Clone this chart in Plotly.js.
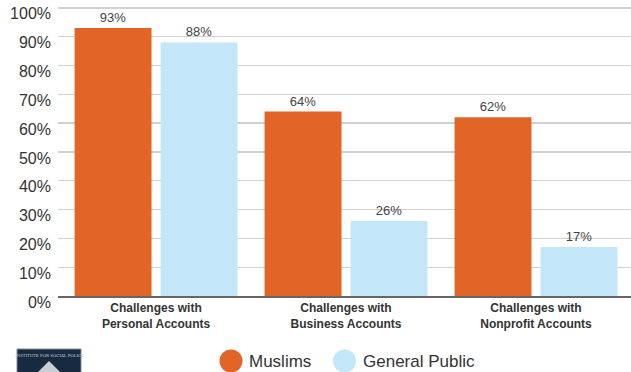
<!DOCTYPE html>
<html>
<head>
<meta charset="utf-8">
<script src="https://cdn.plot.ly/plotly-3.0.1.min.js"></script>
<style>
  html, body { margin: 0; padding: 0; background: #fff; }
  #chart { width: 631px; height: 372px; }
</style>
</head>
<body>
<div id="chart"></div>
<script>
// Share of respondents reporting account challenges
const categories = [
  "Challenges with<br>Personal Accounts",
  "Challenges with<br>Business Accounts",
  "Challenges with<br>Nonprofit Accounts"
];
const muslims = [93, 64, 62];
const generalPublic = [88, 26, 17];
const seriesNames = ["Muslims", "General Public"];
const seriesColors = ["#E06526", "#C3E6F8"];
const tickValues = [0, 10, 20, 30, 40, 50, 60, 70, 80, 90, 100];
const tickLabels = tickValues.map(v => v + "%");

const FONT = "Liberation Sans, Arial, sans-serif";
const labelFont = { family: FONT, size: 13, color: "#444" };

// plot frame in pixels
const L = 58, T = 5, B = 76, W = 631 - L, H = 372 - T - B;
const Y_MAX = 101;
// pixel -> paper helpers for the legend and logo placed under the axis
const px = x => (x - L) / W;
const py = y => (372 - B - y) / H;

function barTrace(name, values, color) {
  return {
    type: "bar",
    name: name,
    x: categories,
    y: values,
    marker: { color: color, line: { width: 0 } },
    text: values.map(v => v + "%"),
    textposition: "outside",
    textfont: labelFont,
    cliponaxis: false,
    hoverinfo: "none"
  };
}

const data = [
  barTrace(seriesNames[0], muslims, seriesColors[0]),
  barTrace(seriesNames[1], generalPublic, seriesColors[1])
];

function swatch(cx, color) {
  return { type: "circle", xref: "paper", yref: "paper", xsizemode: "pixel", ysizemode: "pixel",
    xanchor: px(cx), yanchor: py(361), x0: -11.5, x1: 11.5, y0: -11.5, y1: 11.5,
    fillcolor: color, line: { width: 0 } };
}

const shapes = [
  swatch(231, seriesColors[0]),
  swatch(344.5, seriesColors[1]),
  // logo block
  { type: "rect", xref: "paper", yref: "paper",
    x0: px(17), x1: px(81), y0: py(349), y1: py(380),
    fillcolor: "#172a40", line: { color: "#7f8c99", width: 1 } },
  { type: "path", xref: "paper", yref: "paper", xsizemode: "pixel", ysizemode: "pixel",
    xanchor: px(49), yanchor: py(361),
    path: "M 0,0 L 11,-11 L -11,-11 Z",
    fillcolor: "#c9ced4", line: { width: 0 } }
];

const legendFont = { family: FONT, size: 17, color: "#333" };
const annotations = [
  { xref: "paper", yref: "paper", x: px(247), y: py(361), xanchor: "left", yanchor: "middle",
    showarrow: false, text: seriesNames[0], font: legendFont },
  { xref: "paper", yref: "paper", x: px(361), y: py(361), xanchor: "left", yanchor: "middle",
    showarrow: false, text: seriesNames[1], font: legendFont },
  { xref: "paper", yref: "paper", x: px(49), y: py(355), xanchor: "center", yanchor: "middle",
    showarrow: false, text: "INSTITUTE FOR SOCIAL POLICY",
    font: { family: "DejaVu Serif, serif", size: 4, color: "#c9ced4" } }
];

const layout = {
  width: 631,
  height: 372,
  margin: { l: L, r: 0, t: T, b: B, pad: 0 },
  paper_bgcolor: "#ffffff",
  plot_bgcolor: "#ffffff",
  barmode: "group",
  bargap: 0.095,
  bargroupgap: 0.105,
  showlegend: false,
  font: { family: FONT, color: "#333" },
  xaxis: {
    type: "category",
    range: [-0.516, 2.5],
    showgrid: false,
    showline: true,
    linecolor: "#666",
    linewidth: 1.5,
    ticks: "",
    tickfont: { family: FONT, size: 12, color: "#333", weight: "bold" },
    fixedrange: true
  },
  yaxis: {
    range: [0, Y_MAX],
    tickmode: "array",
    tickvals: tickValues,
    ticktext: tickLabels,
    showgrid: true,
    gridcolor: "#d0d0d0",
    gridwidth: 1.3,
    zeroline: false,
    showline: false,
    ticks: "",
    ticklabelstandoff: 6,
    ticklabelshift: 6,
    ticklabeloverflow: "allow",
    tickfont: { family: FONT, size: 16, color: "#333" },
    fixedrange: true
  },
  shapes: shapes,
  annotations: annotations
};

Plotly.newPlot("chart", data, layout, { displayModeBar: false, staticPlot: true });
</script>
</body>
</html>
